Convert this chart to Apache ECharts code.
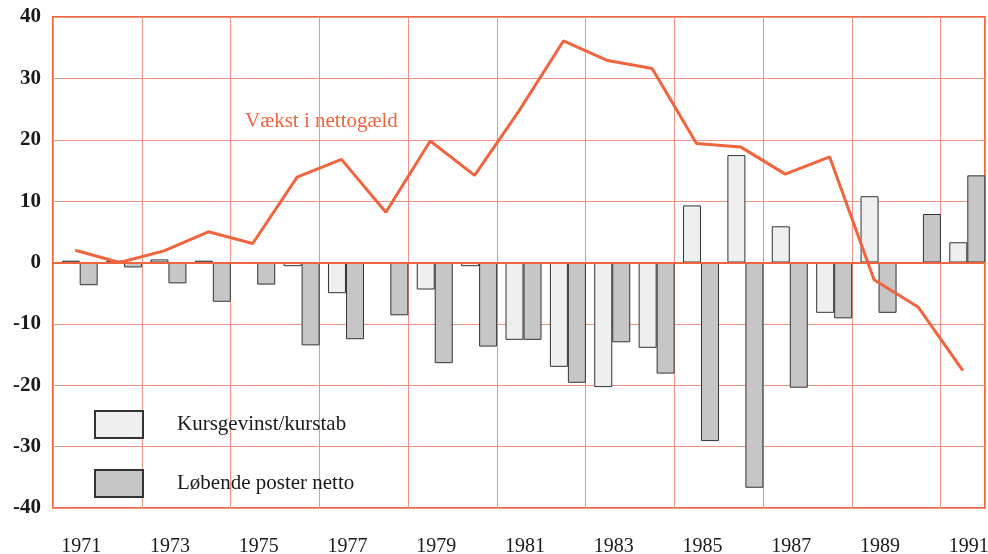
<!DOCTYPE html>
<html>
<head>
<meta charset="utf-8">
<script src="https://cdn.jsdelivr.net/npm/echarts@6/dist/echarts.min.js"></script>
<style>
  html, body { margin: 0; padding: 0; background: #fff; }
  #chart { width: 988px; height: 554px; }
</style>
</head>
<body>
<div id="chart"></div>
<script>
// år 1971-1991
var years = ['1971','1972','1973','1974','1975','1976','1977','1978','1979','1980',
             '1981','1982','1983','1984','1985','1986','1987','1988','1989','1990','1991'];
// Kursgevinst/kurstab (lyse søjler)
var kursgevinst = [0.3, 0.3, 0.5, 0.3, 0, -0.6, -5.0, 0, -4.4, -0.6,
                   -12.6, -17.0, -20.3, -13.9, 9.3, 17.5, 5.9, -8.2, 10.8, 0, 3.3];
// Løbende poster netto (mørke søjler)
var loebende = [-3.7, -0.8, -3.4, -6.4, -3.6, -13.5, -12.5, -8.6, -16.4, -13.7,
                -12.6, -19.6, -13.0, -18.1, -29.1, -36.7, -20.4, -9.1, -8.2, 7.9, 14.2];
// Vækst i nettogæld (linje)
var vaekst = [2.0, 0.0, 1.9, 5.0, 3.1, 13.9, 16.8, 8.2, 19.8, 14.2,
              24.7, 36.1, 32.9, 31.6, 19.4, 18.8, 14.4, 17.2, -2.8, -7.3, -17.6];
var yTicks = [-40, -30, -20, -10, 0, 10, 20, 30, 40];

var serif = '"Liberation Serif", "DejaVu Serif", serif';
var orange = '#f0643e';
var gridCol = '#eb9582';

var chart = echarts.init(document.getElementById('chart'));

// tom søjleserie, skubber søjleparret lidt til højre som i originalen
var spacer = years.map(function(){ return null; });

var option = {
    animation: false,
    grid: {left: 53, right: 3, top: 17, bottom: 46, show: true, outerBoundsMode: 'none',
           borderColor: orange, borderWidth: 2, backgroundColor: '#fff'},
    legend: {
        orient: 'vertical', left: 89, top: 405,
        itemWidth: 48, itemHeight: 27, itemGap: 30,
        icon: 'rect',
        data: ['Kursgevinst/kurstab', 'Løbende poster netto'],
        textStyle: {fontFamily: serif, fontSize: 21, color: '#1a1a1a', padding: [0, 0, 0, 29]}
    },
    xAxis: {
        type: 'category', data: years, boundaryGap: true,
        axisLine: {show: false}, axisTick: {show: false},
        axisLabel: {interval: 1, fontFamily: serif, fontSize: 20, color: '#1a1a1a',
                    margin: 29, padding: [0, 0, 0, 12]},
        splitLine: {show: true, interval: 1, lineStyle: {color: gridCol, width: 1}}
    },
    yAxis: {
        type: 'value', min: yTicks[0], max: yTicks[yTicks.length-1], interval: 10,
        axisLine: {show: false}, axisTick: {show: false},
        axisLabel: {fontFamily: serif, fontSize: 21, fontWeight: 'bold', color: '#1a1a1a', margin: 12},
        splitLine: {show: true, lineStyle: {color: gridCol, width: 1}}
    },
    graphic: [{
        type: 'text', left: 245, top: 111,
        style: {text: 'Vækst i nettogæld', fill: orange, font: '21px ' + serif}
    }],
    series: [
        {name: 'spacer', type: 'bar', data: spacer, barWidth: 9, barGap: 0,
         itemStyle: {color: 'transparent'}, silent: true},
        {name: 'Kursgevinst/kurstab', type: 'bar', data: kursgevinst, barWidth: 18, barGap: 0,
         itemStyle: {color: '#efefef', borderColor: '#333', borderWidth: 1}},
        {name: 'Løbende poster netto', type: 'bar', data: loebende, barWidth: 18, barGap: 0,
         itemStyle: {color: '#c6c6c6', borderColor: '#333', borderWidth: 1}},
        {name: 'Vækst i nettogæld', type: 'line', data: vaekst, symbol: 'none', z: 5,
         lineStyle: {color: orange, width: 3}, itemStyle: {color: orange},
         markLine: {silent: true, symbol: 'none', label: {show: false},
                    lineStyle: {color: orange, width: 2, type: 'solid'},
                    data: [{yAxis: 0}]}}
    ]
};
chart.setOption(option);
</script>
</body>
</html>
